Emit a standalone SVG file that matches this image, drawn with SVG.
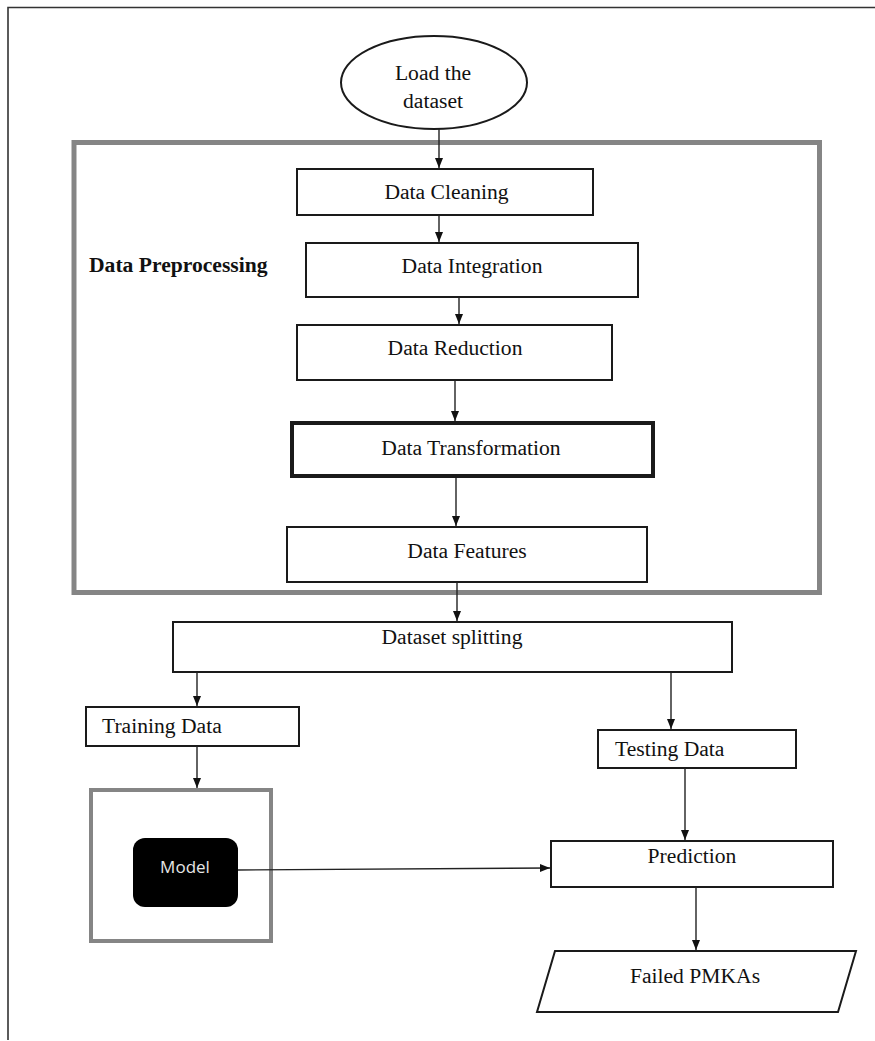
<svg xmlns="http://www.w3.org/2000/svg" width="875" height="1041" viewBox="0 0 875 1041">
<defs>
<marker id="arr" markerUnits="userSpaceOnUse" markerWidth="10" markerHeight="10" viewBox="0 0 10 10" refX="10" refY="5" orient="auto">
<path d="M0,1 L10,5 L0,9 Z" fill="#111"/>
</marker>
<style>
.box{fill:#fff;stroke:#1a1a1a;stroke-width:2}
.thick{stroke-width:4}
.gray{fill:none;stroke:#858585}
.t{font-family:"Liberation Serif","Times New Roman",serif;font-size:21.6px;fill:#111}
.c{text-anchor:middle}
.b{font-weight:bold}
.conn line,.conn path{stroke:#222;stroke-width:1.4;fill:none;marker-end:url(#arr)}
</style>
</defs>
<rect width="875" height="1041" fill="#fff"/>
<g id="frame">
<path d="M8,1040 V7.5 H875" fill="none" stroke="#333" stroke-width="1.6"/>
</g>
<g id="preprocessing-group">
<rect class="gray" x="74" y="142.5" width="745.5" height="450" stroke-width="5"/>
<text class="t b" x="89" y="272">Data Preprocessing</text>
</g>
<g id="load">
<ellipse cx="434" cy="82.5" rx="93" ry="46.5" fill="#fff" stroke="#1a1a1a" stroke-width="2"/>
<text class="t c" x="433" y="80">Load the</text>
<text class="t c" x="433" y="108">dataset</text>
</g>
<g id="cleaning">
<rect class="box" x="297" y="169" width="296" height="46"/>
<text class="t c" x="446.5" y="199">Data Cleaning</text>
</g>
<g id="integration">
<rect class="box" x="306" y="243" width="332" height="54"/>
<text class="t c" x="472" y="273">Data Integration</text>
</g>
<g id="reduction">
<rect class="box" x="297" y="325" width="315" height="55"/>
<text class="t c" x="455" y="355">Data Reduction</text>
</g>
<g id="transformation">
<rect class="box thick" x="292" y="423" width="361" height="53"/>
<text class="t c" x="471" y="455">Data Transformation</text>
</g>
<g id="features">
<rect class="box" x="287" y="527" width="360" height="55"/>
<text class="t c" x="467" y="558">Data Features</text>
</g>
<g id="splitting">
<rect class="box" x="173" y="622" width="559" height="50"/>
<text class="t c" x="452" y="644">Dataset splitting</text>
</g>
<g id="training">
<rect class="box" x="86" y="707" width="213" height="39"/>
<text class="t" x="102" y="733">Training Data</text>
</g>
<g id="testing">
<rect class="box" x="598" y="730" width="198" height="38"/>
<text class="t" x="615" y="756">Testing Data</text>
</g>
<g id="model">
<rect class="gray" x="91" y="790" width="180" height="151" stroke-width="4"/>
<rect x="133" y="838" width="105" height="69" rx="12" fill="#000"/>
<text x="185" y="873" text-anchor="middle" font-family="'Open Sans','Noto Sans',sans-serif" font-size="17" fill="#e6e6e6">Model</text>
</g>
<g id="prediction">
<rect class="box" x="551" y="841" width="282" height="46"/>
<text class="t c" x="692" y="863">Prediction</text>
</g>
<g id="failed">
<path d="M555,951 H856 L838,1012 H537 Z" fill="#fff" stroke="#1a1a1a" stroke-width="2"/>
<text class="t c" x="695" y="983">Failed PMKAs</text>
</g>
<g id="connectors" class="conn">
<line x1="439" y1="129" x2="439" y2="168"/>
<line x1="439" y1="215" x2="439" y2="242"/>
<line x1="459" y1="297" x2="459" y2="324"/>
<line x1="455" y1="380" x2="455" y2="421"/>
<line x1="456" y1="478" x2="456" y2="526"/>
<line x1="457" y1="582" x2="457" y2="621"/>
<line x1="197" y1="672" x2="197" y2="706"/>
<line x1="671" y1="672" x2="671" y2="729"/>
<line x1="197" y1="746" x2="197" y2="788"/>
<line x1="685" y1="768" x2="685" y2="840"/>
<line x1="238" y1="870" x2="550" y2="868"/>
<line x1="696" y1="887" x2="696" y2="950"/>
</g>
</svg>
